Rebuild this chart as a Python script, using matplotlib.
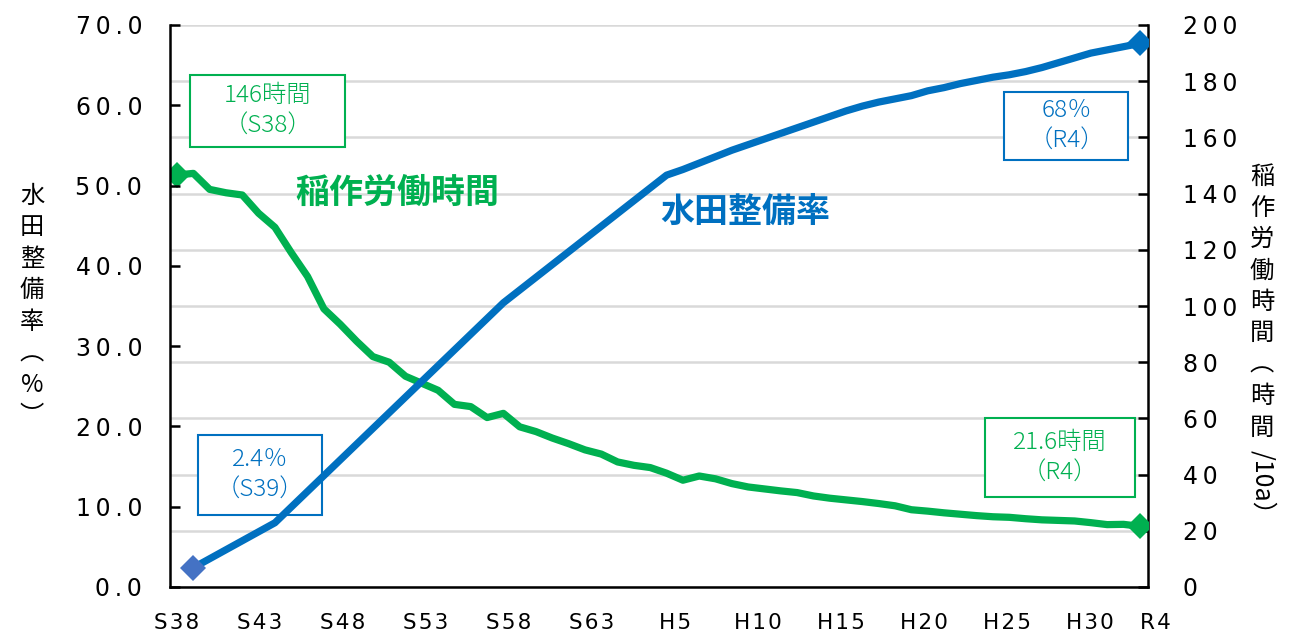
import matplotlib
matplotlib.use("Agg")
import matplotlib.pyplot as plt
from matplotlib.patches import Rectangle
from matplotlib.ticker import FuncFormatter, MultipleLocator

plt.rcParams["font.family"] = ["Noto Sans CJK JP", "DejaVu Sans"]

# 稲作労働時間（時間/10a）S38(1963)～R4(2022)
rice_years = list(range(1963, 2023))
rice_hours = [
    146.6, 147.2, 141.5, 140.3, 139.5, 133.0, 128.0, 119.0, 110.5, 99.0,
    93.5, 87.5, 82.0, 80.0, 75.0, 72.5, 70.0, 65.0, 64.2, 60.3,
    61.8, 57.0, 55.3, 53.0, 51.0, 48.8, 47.3, 44.5, 43.3, 42.5,
    40.5, 38.0, 39.5, 38.5, 36.8, 35.6, 34.9, 34.2, 33.6, 32.4,
    31.6, 31.0, 30.4, 29.7, 28.9, 27.5, 27.0, 26.4, 25.9, 25.4,
    25.0, 24.8, 24.3, 23.9, 23.7, 23.5, 22.9, 22.2, 22.3, 21.6,
]

# 水田整備率（%）
paddy_years = [1964, 1969, 1983] + list(range(1993, 2023))
paddy_rate = [
    2.4, 8.0, 35.4,
    51.3, 52.0, 52.8, 53.6, 54.4, 55.1, 55.8, 56.5, 57.2, 57.9,
    58.6, 59.3, 59.9, 60.4, 60.8, 61.2, 61.8, 62.2, 62.7, 63.1,
    63.5, 63.8, 64.2, 64.7, 65.3, 65.9, 66.5, 66.9, 67.3, 67.7,
]

# 横軸ラベル（和暦）
xtick_years = [1963, 1968, 1973, 1978, 1983, 1988, 1993, 1998, 2003, 2008, 2013, 2018, 2022]
xtick_labels = ["S38", "S43", "S48", "S53", "S58", "S63", "H5", "H10", "H15", "H20", "H25", "H30", "R4"]

GREEN = "#00B050"
BLUE = "#0070C0"
BLUE_MK = "#4472C4"
GRID = "#D9D9D9"
THIN = "\u2009"
HAIR = "\u200a"

W, H = 1291, 636
fig = plt.figure(figsize=(W / 100, H / 100), dpi=100)
ax = fig.add_axes([170 / W, 49 / H, 978 / W, 562 / H])
ax2 = ax.twinx()
ax.set_zorder(ax2.get_zorder() + 1)
ax.patch.set_visible(False)

# 稲作労働時間（右軸）
ax2.plot(rice_years, rice_hours, color=GREEN, lw=5.2, solid_joinstyle="round", zorder=3)
ax2.plot(rice_years[0], rice_hours[0], "D", color=GREEN, ms=13, mew=0, zorder=4)
ax2.plot(rice_years[-1], rice_hours[-1], "D", color=GREEN, ms=13, mew=0, zorder=4)

# 水田整備率（左軸）
ax.plot(paddy_years, paddy_rate, color=BLUE, lw=5.2, solid_joinstyle="round", zorder=3)
ax.plot(paddy_years[0], paddy_rate[0], "D", color=BLUE_MK, ms=13, mew=0, zorder=4)
ax.plot(paddy_years[-1], paddy_rate[-1], "D", color=BLUE, ms=13, mew=0, zorder=4)

ax.set_xlim(1962.57, 2022.5)
ax.set_ylim(0, 70)
ax2.set_ylim(0, 200)
ax.yaxis.set_major_locator(MultipleLocator(10))
ax2.yaxis.set_major_locator(MultipleLocator(20))
ax.yaxis.set_major_formatter(FuncFormatter(lambda v, p: THIN.join(f"{v:.1f}")))
ax2.yaxis.set_major_formatter(FuncFormatter(lambda v, p: THIN.join(f"{v:.0f}")))

ax2.yaxis.grid(True, color=GRID, lw=1.8)
ax2.set_axisbelow(True)

for s in ["top", "right"]:
    ax.spines[s].set_visible(False)
for s in ["top", "left", "bottom"]:
    ax2.spines[s].set_visible(False)
ax.spines["left"].set_linewidth(1.8)
ax.spines["bottom"].set_linewidth(1.8)
ax2.spines["right"].set_linewidth(1.8)

ax.tick_params(axis="y", direction="in", length=7, width=1.8, pad=20,
               labelsize=17, labelfontfamily="DejaVu Sans")
ax2.tick_params(axis="y", direction="in", length=7, width=1.8, pad=25,
                labelsize=17, labelfontfamily="DejaVu Sans")
ax.set_xticks([])

# 横軸ラベル（少し広めの間隔で配置）
label_stretch = 1.0167
for yr, lab in zip(xtick_years, xtick_labels):
    xpos = xtick_years[0] + (yr - xtick_years[0]) * label_stretch
    ax.annotate(HAIR.join(lab), xy=(xpos, 0), xycoords=("data", "axes fraction"),
                xytext=(0, -19), textcoords="offset points", ha="center", va="top",
                fontsize=15.5, family="DejaVu Sans", annotation_clip=False)


def label_box(x0, x1, y0, y1, text, color):
    ax.add_patch(Rectangle((x0, y0), x1 - x0, y1 - y0, fc="white", ec=color,
                           lw=1.5, zorder=1, clip_on=False))
    ax.text((x0 + x1) / 2, (y0 + y1) / 2, text, color=color, ha="center", va="center",
            fontsize=17.5, fontweight="light", linespacing=1.3, zorder=1.5)


label_box(1963.8, 1973.3, 54.8, 63.8, "146時間\n（S38）", GREEN)
label_box(1964.3, 1971.9, 9.0, 18.9, "2.4％\n（S39）", BLUE)
label_box(2013.7, 2021.3, 53.2, 61.6, "68％\n（R4）", BLUE)
label_box(2012.5, 2021.7, 11.2, 21.0, "21.6時間\n（R4）", GREEN)

ax.text(1976.5, 49.1, "稲作労働時間", color=GREEN, fontsize=24.5, fontweight="bold",
        ha="center", va="center")
ax.text(1997.8, 46.8, "水田整備率", color=BLUE, fontsize=24.5, fontweight="bold",
        ha="center", va="center")

# 縦書きの軸ラベル
fig.text(32 / W, 1 - 306 / H, "\n".join("水田整備率︵%︶"), ha="center", va="center",
         fontsize=17.5, linespacing=1.27, multialignment="center")
fig.text(1262 / W, 1 - 302 / H, "\n".join("稲作労働時間︵時間"), ha="center", va="center",
         fontsize=17.5, linespacing=1.27, multialignment="center")
fig.text(1262 / W, 1 - 450 / H, "/10a）", ha="center", va="top", rotation=-90,
         fontsize=18)

fig.savefig("out.png", dpi=100)
